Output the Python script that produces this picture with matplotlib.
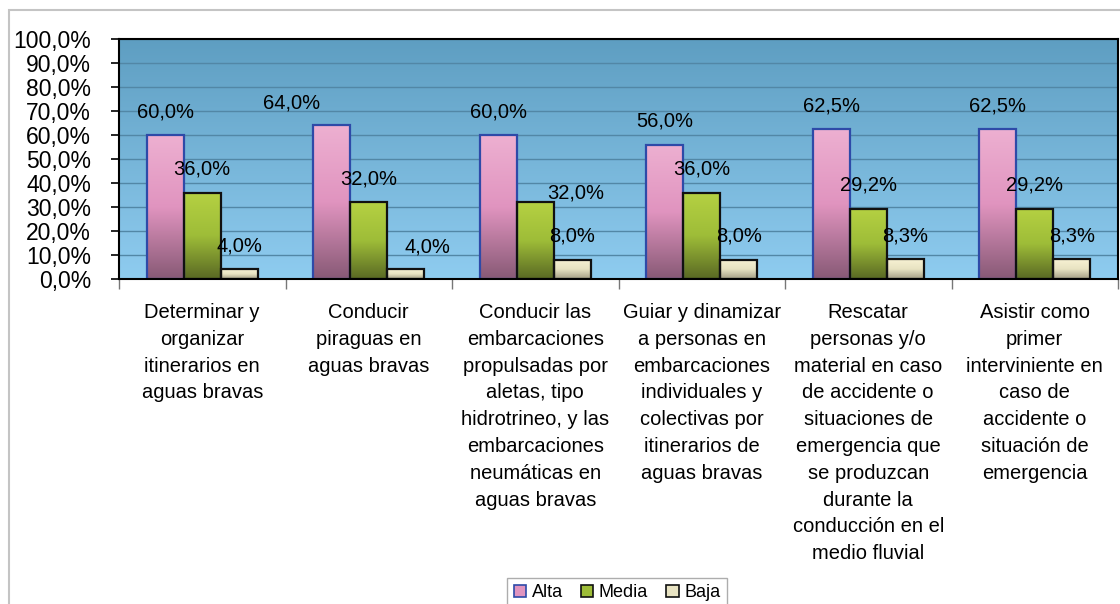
import numpy as np
import matplotlib
matplotlib.use("Agg")
import matplotlib.pyplot as plt
from matplotlib.colors import LinearSegmentedColormap
from matplotlib.patches import Rectangle

plt.rcParams["font.family"] = ["Liberation Sans", "DejaVu Sans"]

categories = [
    "Determinar y\norganizar\nitinerarios en\naguas bravas",
    "Conducir\npiraguas en\naguas bravas",
    "Conducir las\nembarcaciones\npropulsadas por\naletas, tipo\nhidrotrineo, y las\nembarcaciones\nneumáticas en\naguas bravas",
    "Guiar y dinamizar\na personas en\nembarcaciones\nindividuales y\ncolectivas por\nitinerarios de\naguas bravas",
    "Rescatar\npersonas y/o\nmaterial en caso\nde accidente o\nsituaciones de\nemergencia que\nse produzcan\ndurante la\nconducción en el\nmedio fluvial",
    "Asistir como\nprimer\ninterviniente en\ncaso de\naccidente o\nsituación de\nemergencia",
]
series_names = ["Alta", "Media", "Baja"]
alta = [60.0, 64.0, 60.0, 56.0, 62.5, 62.5]
media = [36.0, 32.0, 32.0, 36.0, 29.2, 29.2]
baja = [4.0, 4.0, 8.0, 8.0, 8.3, 8.3]
yticks = [0, 10, 20, 30, 40, 50, 60, 70, 80, 90, 100]

# gradient stops (top -> bottom) and outline colour for each series
grad_stops = [
    [(0.93, 0.69, 0.82), (0.88, 0.58, 0.75), (0.53, 0.35, 0.46)],
    [(0.71, 0.82, 0.26), (0.62, 0.74, 0.22), (0.35, 0.41, 0.14)],
    [(0.97, 0.95, 0.83), (0.91, 0.89, 0.76), (0.64, 0.62, 0.52)],
]
edge_colors = ["#2E4AA8", "#111111", "#111111"]
# label nudges in pixels (dx, dy above bar top) for labels moved by hand
label_nudge = {(1, 0): (-40, 22), (1, 2): (22, 22), (2, 1): (40, 9)}

W, H = 1120, 604
fig = plt.figure(figsize=(W / 100, H / 100), dpi=100)
fig.patch.set_facecolor("white")

# outer chart frame
fig.add_artist(Rectangle((9 / W, -0.1), 1.2, (H - 10) / H + 0.1,
                         transform=fig.transFigure, fill=False,
                         edgecolor="#C4C4C4", linewidth=1.5))

ax = fig.add_axes([119 / W, 1 - 279 / H, (1118 - 119) / W, (279 - 39) / H])

# plot-area background gradient
bg = LinearSegmentedColormap.from_list("bg", [(0.37, 0.62, 0.76), (0.56, 0.80, 0.94)])
ax.imshow(np.linspace(0, 1, 256).reshape(-1, 1), cmap=bg, aspect="auto",
          extent=(0, 1, 0, 1), transform=ax.transAxes, zorder=0)

ax.set_xlim(-0.5, len(categories) - 0.5)
ax.set_ylim(0, 100)
ax.set_yticks(yticks)
ax.set_yticklabels([f"{v:.1f}".replace(".", ",") + "%" for v in yticks], fontsize=16.5)
ax.yaxis.grid(True, color=(0.32, 0.53, 0.65), linewidth=1.0, zorder=1)
ax.set_axisbelow(True)
ax.tick_params(axis="y", length=6, width=1.2, pad=14, colors="black")

ax.set_xticks(np.arange(len(categories)))
ax.set_xticklabels([])
ax.tick_params(axis="x", which="major", length=0)
ax.set_xticks(np.arange(len(categories) + 1) - 0.5, minor=True)
ax.tick_params(axis="x", which="minor", length=7, width=1.0, color="#777777")
for s in ax.spines.values():
    s.set_color("black")
    s.set_linewidth(1.5)
    s.set_zorder(5)

bar_w = 1 / 4.5
x = np.arange(len(categories))
grad = np.linspace(0, 1, 256).reshape(-1, 1)
for k, vals in enumerate([alta, media, baja]):
    cmap = LinearSegmentedColormap.from_list(f"s{k}", grad_stops[k])
    xs = x + (k - 1) * bar_w
    bars = ax.bar(xs, vals, width=bar_w, facecolor="none",
                  edgecolor=edge_colors[k], linewidth=1.6, zorder=3)
    for i, (b, v) in enumerate(zip(bars, vals)):
        im = ax.imshow(grad, cmap=cmap, aspect="auto", zorder=2.5,
                       extent=(b.get_x(), b.get_x() + bar_w, 0, v))
        im.set_clip_path(b)
        dx, dy = label_nudge.get((i, k), (0, 23.5))
        ax.annotate(f"{v:.1f}".replace(".", ",") + "%", xy=(xs[i], v),
                    xytext=(dx * 0.72, dy * 0.72), textcoords="offset points",
                    ha="center", va="center", fontsize=14.5, zorder=6)

ax.set_xlim(-0.5, len(categories) - 0.5)
ax.set_ylim(0, 100)

for i, lab in enumerate(categories):
    ax.text(i, -0.1, lab, transform=ax.get_xaxis_transform(), ha="center",
            va="top", fontsize=14.5, linespacing=1.52, multialignment="center")

handles = [Rectangle((0, 0), 1, 1, facecolor=grad_stops[k][1],
                     edgecolor=edge_colors[k], linewidth=1.2) for k in range(3)]
leg = fig.legend(handles, series_names, loc="upper center",
                 bbox_to_anchor=(617 / W, 1 - 578 / H), ncol=3, frameon=True,
                 fontsize=13, handlelength=0.7, handleheight=0.7,
                 handletextpad=0.3, columnspacing=1.0, borderpad=0.35,
                 borderaxespad=0, fancybox=False, edgecolor="#999999")
leg.get_frame().set_linewidth(1.0)

fig.savefig("out.png", dpi=100)
